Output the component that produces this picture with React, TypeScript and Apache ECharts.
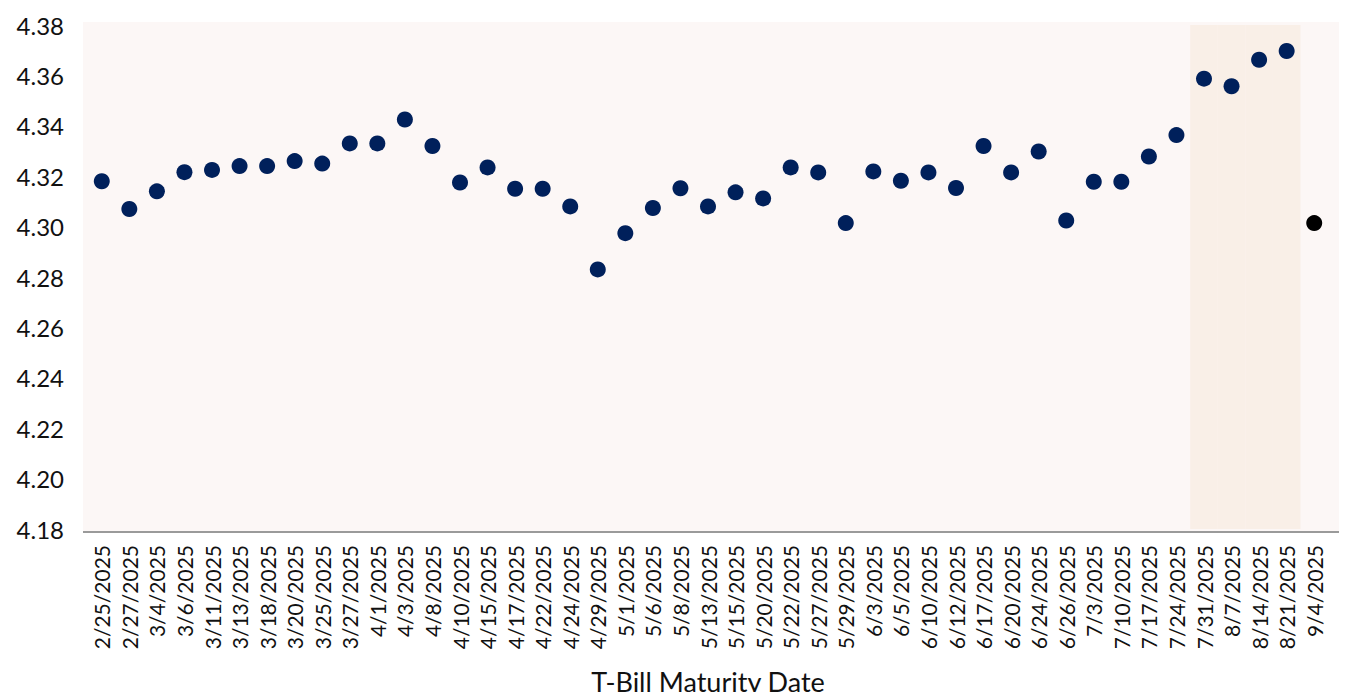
import React, { useEffect, useRef } from "react";
import * as echarts from "echarts";

const categories = [
  "2/25/2025", "2/27/2025", "3/4/2025", "3/6/2025", "3/11/2025", "3/13/2025",
  "3/18/2025", "3/20/2025", "3/25/2025", "3/27/2025", "4/1/2025", "4/3/2025",
  "4/8/2025", "4/10/2025", "4/15/2025", "4/17/2025", "4/22/2025", "4/24/2025",
  "4/29/2025", "5/1/2025", "5/6/2025", "5/8/2025", "5/13/2025", "5/15/2025",
  "5/20/2025", "5/22/2025", "5/27/2025", "5/29/2025", "6/3/2025", "6/5/2025",
  "6/10/2025", "6/12/2025", "6/17/2025", "6/20/2025", "6/24/2025", "6/26/2025",
  "7/3/2025", "7/10/2025", "7/17/2025", "7/24/2025", "7/31/2025", "8/7/2025",
  "8/14/2025", "8/21/2025", "9/4/2025",
];

const yields = [
  4.318, 4.307, 4.314, 4.3216, 4.3225, 4.324,
  4.324, 4.326, 4.325, 4.333, 4.333, 4.3425,
  4.332, 4.3175, 4.3235, 4.315, 4.315, 4.308,
  4.283, 4.2974, 4.3074, 4.3152, 4.308, 4.3136,
  4.3112, 4.3235, 4.3215, 4.3014, 4.3219, 4.3182,
  4.3215, 4.3153, 4.332, 4.3215, 4.3298, 4.3024,
  4.3178, 4.3178, 4.3278, 4.3363, 4.3587, 4.3557,
  4.3662, 4.3697, null,
];

const latest = [
  null, null, null, null, null, null, null, null, null, null, null, null,
  null, null, null, null, null, null, null, null, null, null, null, null,
  null, null, null, null, null, null, null, null, null, null, null, null,
  null, null, null, null, null, null, null, null, 4.3014,
];

const highlighted = ["7/31/2025", "8/7/2025", "8/14/2025", "8/21/2025"];

const yMin = 4.18;
const yMax = 4.38;
const yStep = 0.02;

const FONT = "Lato, 'Noto Sans', sans-serif";

export default function App() {
  const ref = useRef<HTMLDivElement>(null);

  useEffect(() => {
    if (!ref.current) return;
    const chart = echarts.init(ref.current, null, { renderer: "svg" });
    const bandData = categories.map((c) => (highlighted.includes(c) ? yMax : null));
    chart.setOption({
      animation: false,
      backgroundColor: "#ffffff",
      graphic: [
        {
          type: "rect",
          z: -10,
          silent: true,
          shape: { x: 83, y: 22, width: 1347 - 83, height: 532 - 22 },
          style: { fill: "#fcf7f6" },
        },
        {
          type: "line",
          z: 10,
          silent: true,
          shape: { x1: 83, y1: 532, x2: 1347, y2: 532 },
          style: { stroke: "#9a9a9a", lineWidth: 2 },
        },
      ],
      grid: {
        left: 88,
        right: 19,
        top: 25,
        bottom: 168,
        containLabel: false,
      },
      xAxis: {
        type: "category",
        data: categories,
        boundaryGap: true,
        axisLine: { show: false },
        axisTick: { show: false },
        splitLine: { show: false },
        axisLabel: {
          rotate: 90,
          interval: 0,
          margin: 16,
          fontSize: 21,
          color: "#111111",
          fontFamily: FONT,
        },
        name: "T-Bill Maturity Date",
        nameLocation: "middle",
        nameGap: 139,
        nameTextStyle: {
          fontSize: 27,
          color: "#111111",
          fontFamily: FONT,
        },
      },
      yAxis: {
        type: "value",
        min: yMin,
        max: yMax,
        interval: yStep,
        axisLine: { show: false },
        axisTick: { show: false },
        splitLine: { show: false },
        axisLabel: {
          margin: 24,
          fontSize: 24,
          color: "#111111",
          fontFamily: FONT,
          formatter: (v: number) => v.toFixed(2),
        },
      },
      series: [
        {
          type: "bar",
          data: bandData,
          barWidth: "100%",
          barGap: "-100%",
          silent: true,
          itemStyle: { color: "#f9efe7" },
          z: 1,
        },
        {
          type: "scatter",
          data: yields,
          symbolSize: 16,
          itemStyle: { color: "#00205b", opacity: 1 },
          z: 3,
        },
        {
          type: "scatter",
          data: latest,
          symbolSize: 16,
          itemStyle: { color: "#000000", opacity: 1 },
          z: 3,
        },
      ],
    });
    return () => chart.dispose();
  }, []);

  return <div ref={ref} style={{ width: 1347, height: 700, margin: -8 }} />;
}
